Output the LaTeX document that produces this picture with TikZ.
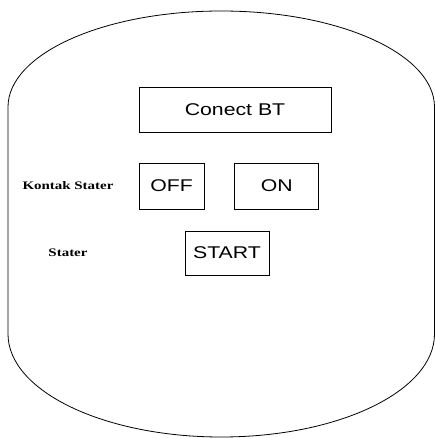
\documentclass[tikz,border=0pt]{standalone}
\usepackage{fontspec}
\setmainfont{Liberation Serif}
\newfontfamily\btnfont[FakeStretch=1.25]{Liberation Sans}
\newfontfamily\lblfont[FakeStretch=1.3]{Liberation Serif}
\usetikzlibrary{positioning}
\tikzset{
    panelLine/.style={draw=black, line width=0.8pt},
    btnBase/.style={
        rectangle,
        draw=black,
        line width=0.8pt,
        inner sep=0pt,
        font=\btnfont\fontsize{17}{20}\selectfont
    },
    rowLabel/.style={
        font=\lblfont\bfseries\fontsize{11.5}{14}\selectfont,
        inner sep=0pt
    }
}

\begin{document}
\begin{tikzpicture}[
  x=1pt, y=-1pt,
  node distance=30pt and 30pt
]
\useasboundingbox (0,0) rectangle (435,438);
\fill[white] (0,0) rectangle (435,438);

% outer panel
\draw[panelLine] (8,334) -- (8,107)
  arc[start angle=180, end angle=360, x radius=213.25, y radius=96]
  -- (434.5,334)
  arc[start angle=0, end angle=180, x radius=213.25, y radius=103] -- cycle;

\node[btnBase, minimum width=192pt, minimum height=45pt] (conect) at (235,109.5) {Conect BT};
\node[btnBase, minimum width=65pt, minimum height=46pt] (off) at (171.5,186) {OFF};
\node[btnBase, minimum width=84pt, minimum height=46pt, right=30pt of off] (on) {ON};
\node[btnBase, minimum width=84pt, minimum height=44pt] (start) at (227,253) {START};

\node[rowLabel] (kontak) at (68,186) {Kontak Stater};
\node[rowLabel] (stater) at (68,253) {Stater};
\end{tikzpicture}
\end{document}
